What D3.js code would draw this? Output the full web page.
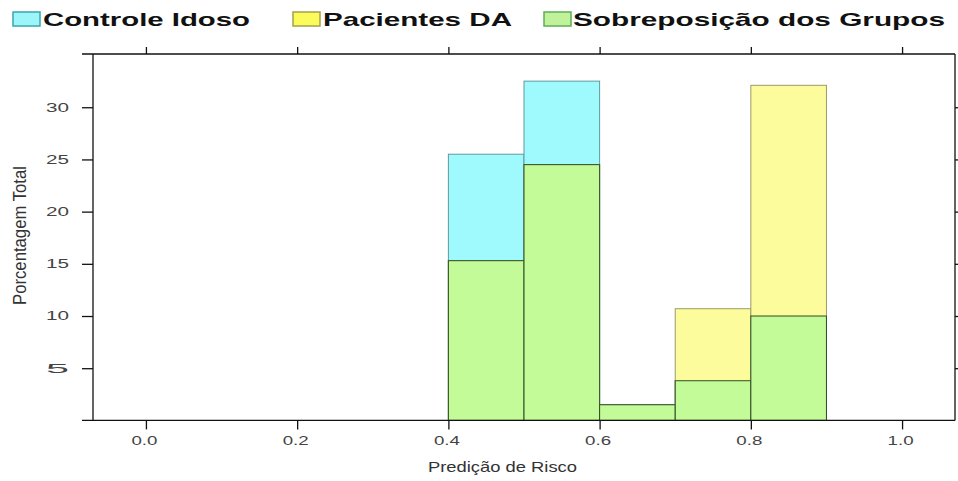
<!DOCTYPE html>
<html>
<head>
<meta charset="utf-8">
<script src="https://cdn.jsdelivr.net/npm/d3@7"></script>
<style>
  body { margin: 0; background: #fff; }
  text { font-family: "Liberation Sans", Arial, sans-serif; }
</style>
</head>
<body>
<div id="main"></div>
<script>
/* Data */
const binStarts = [0.4, 0.5, 0.6, 0.7, 0.8];
const binWidth = 0.1;
const controleIdoso = [25.5, 32.5, 1.5, 3.8, 10.0];
const pacientesDA = [15.3, 24.5, 1.5, 10.7, 32.1];
const sobreposicao = [15.3, 24.5, 1.5, 3.8, 10.0];
const xTicks = [0, 0.2, 0.4, 0.6, 0.8, 1.0];
const yTicks = [5, 10, 15, 20, 25, 30];
const legendNames = ["Controle Idoso", "Pacientes DA", "Sobreposição dos Grupos"];

/* Size */
const width = 958, height = 481;
const mLeft = 93, mRight = 955, mTop = 54, mBottom = 420.4;

const svg = d3.select("#main").append("svg")
  .attr("width", width).attr("height", height);

const x = d3.scaleLinear().domain([-0.07, 1.07]).range([mLeft, mRight]);
const y = d3.scaleLinear().domain([0, 35.1]).range([mBottom, mTop]);

/* bars, one layer per series */
const layers = [
  { values: controleIdoso, fill: "#9ffafd", stroke: "#5f9aa0" },
  { values: pacientesDA, fill: "#fdfc9c", stroke: "#9c9b6a" },
  { values: sobreposicao, fill: "#c3fb98", stroke: "#2f4d25" }
];

layers.forEach(l => {
  svg.append("g").selectAll("rect")
    .data(binStarts)
    .enter().append("rect")
    .attr("x", d => x(d))
    .attr("width", d => x(d + binWidth) - x(d))
    .attr("y", (d, i) => y(l.values[i]))
    .attr("height", (d, i) => y(0) - y(l.values[i]))
    .attr("fill", l.fill)
    .attr("stroke", l.stroke)
    .attr("stroke-width", 1);
});

/* axes */
const fmt = d3.format(".1f");
const xAxis = svg.append("g")
  .attr("transform", `translate(0,${mBottom})`)
  .call(d3.axisBottom(x).tickValues(xTicks).tickSize(9).tickPadding(7).tickFormat(fmt));
const topAxis = svg.append("g")
  .attr("transform", `translate(0,${mTop})`)
  .call(d3.axisTop(x).tickValues(xTicks).tickSize(7).tickFormat(""));
const yAxis = svg.append("g")
  .attr("transform", `translate(${mLeft},0)`)
  .call(d3.axisLeft(y).tickValues(yTicks).tickSize(11).tickPadding(13));
const rightAxis = svg.append("g")
  .attr("transform", `translate(${mRight},0)`)
  .call(d3.axisRight(y).tickValues(yTicks).tickSize(11).tickFormat(""));

svg.selectAll(".domain").remove();
svg.selectAll(".tick line").attr("stroke", "#111").attr("stroke-width", 1.3);

xAxis.selectAll("text")
  .attr("x", -2)
  .style("font-size", "12px")
  .attr("fill", "#444")
  .attr("textLength", 26)
  .attr("lengthAdjust", "spacingAndGlyphs");
yAxis.selectAll("text")
  .style("font-size", "12px")
  .attr("fill", "#444")
  .attr("textLength", 23)
  .attr("lengthAdjust", "spacingAndGlyphs");

/* box */
const box = svg.append("g").attr("stroke", "#111").attr("stroke-width", 1.3);
box.append("line").attr("x1", 82).attr("x2", mRight).attr("y1", mTop).attr("y2", mTop);
box.append("line").attr("x1", 82).attr("x2", mRight).attr("y1", mBottom).attr("y2", mBottom);
box.append("line").attr("x1", mLeft).attr("x2", mLeft).attr("y1", mTop).attr("y2", mBottom);
box.append("line").attr("x1", mRight).attr("x2", mRight).attr("y1", mTop).attr("y2", mBottom);

/* axis titles */
svg.append("text")
  .attr("x", 428).attr("y", 472)
  .style("font-size", "15px")
  .attr("fill", "#333")
  .attr("textLength", 149)
  .attr("lengthAdjust", "spacingAndGlyphs")
  .text("Predição de Risco");

svg.append("text")
  .attr("transform", "translate(26,305) rotate(-90)")
  .style("font-size", "17.5px")
  .attr("fill", "#333")
  .attr("textLength", 139)
  .attr("lengthAdjust", "spacingAndGlyphs")
  .text("Porcentagem Total");

/* legend */
const legendItems = [
  { name: legendNames[0], sx: 13, tx: 43, tw: 207, fill: "#9bf5f9", stroke: "#3aa6ae" },
  { name: legendNames[1], sx: 293, tx: 323, tw: 189, fill: "#fbfb5c", stroke: "#a3a34a" },
  { name: legendNames[2], sx: 544, tx: 573, tw: 372, fill: "#bff29a", stroke: "#5fae55" }
];
const lg = svg.append("g").selectAll("g").data(legendItems).enter().append("g");
lg.append("rect")
  .attr("x", d => d.sx).attr("y", 12)
  .attr("width", 27).attr("height", 14)
  .attr("fill", d => d.fill)
  .attr("stroke", d => d.stroke)
  .attr("stroke-width", 1.5);
lg.append("text")
  .attr("x", d => d.tx).attr("y", 26)
  .style("font-size", "18.5px")
  .style("font-weight", "bold")
  .attr("fill", "#111")
  .attr("textLength", d => d.tw)
  .attr("lengthAdjust", "spacingAndGlyphs")
  .text(d => d.name);
</script>
</body>
</html>
